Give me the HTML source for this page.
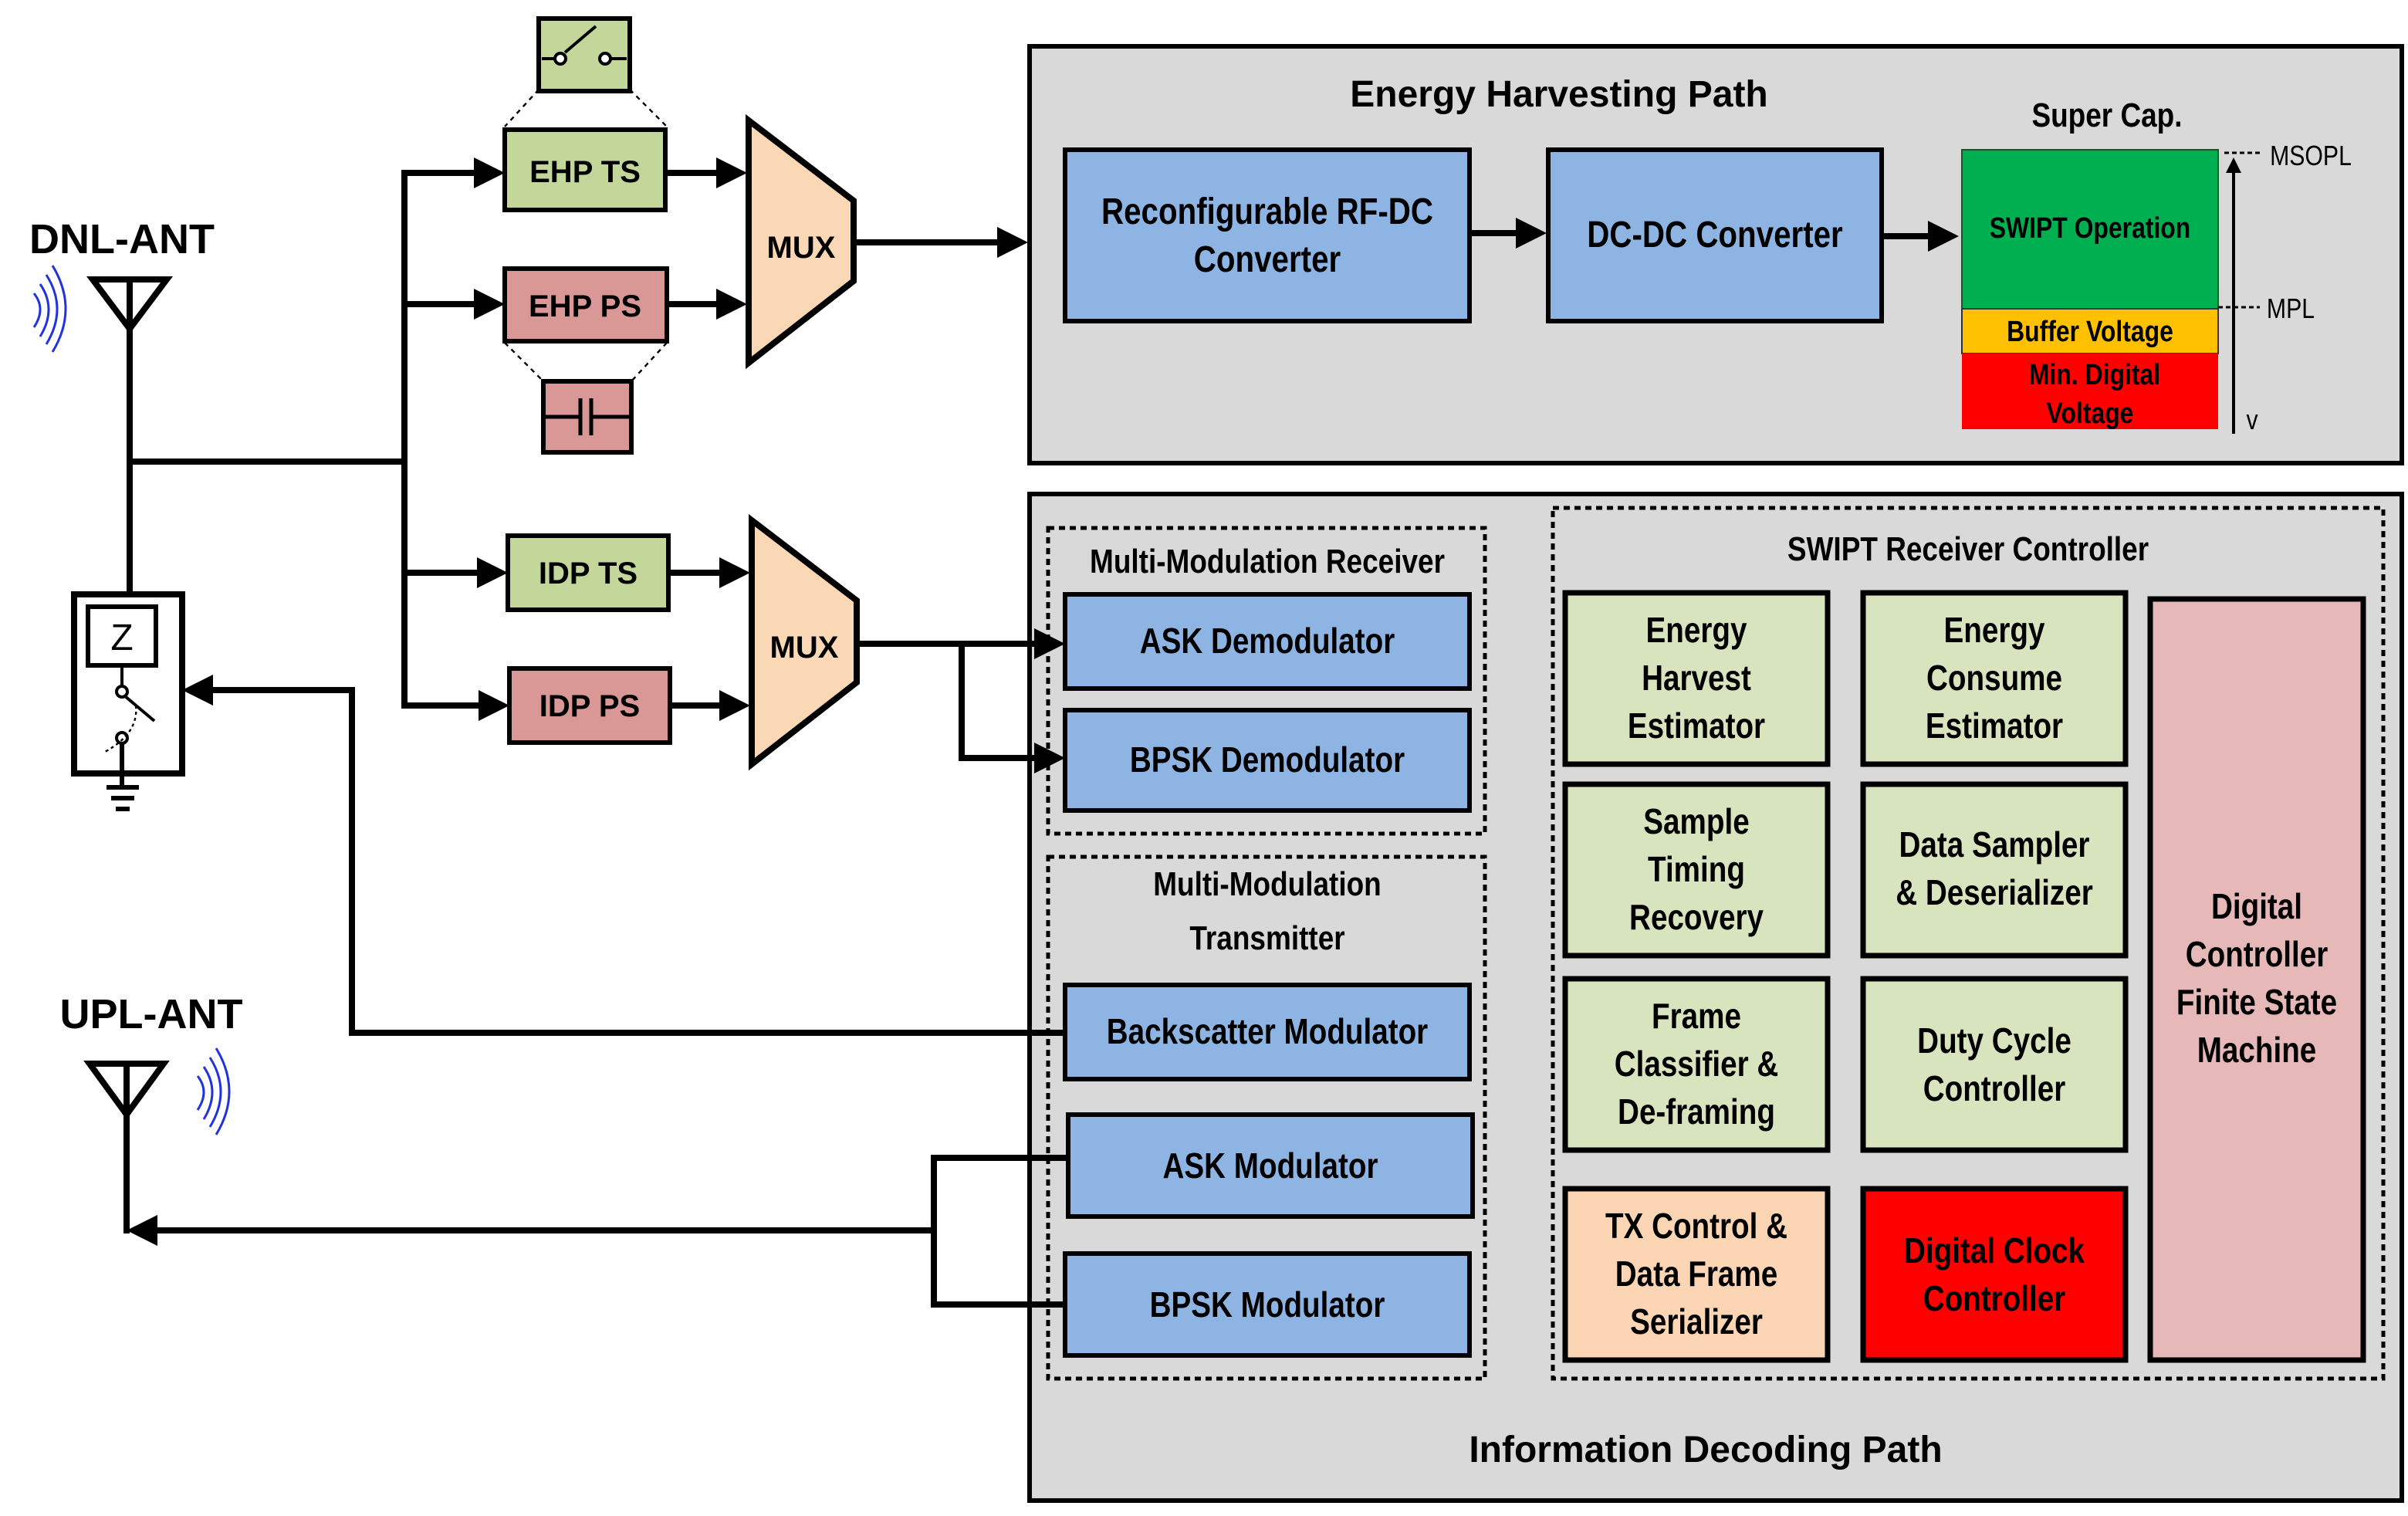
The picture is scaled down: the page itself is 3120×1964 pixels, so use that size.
<!DOCTYPE html>
<html><head><meta charset="utf-8"><style>
html,body{margin:0;padding:0;background:#fff;}
svg{display:block;}
text{font-family:"Liberation Sans Narrow","Liberation Sans",sans-serif;font-weight:bold;fill:#000;text-anchor:middle;transform-box:fill-box;transform-origin:center;transform:scaleX(0.84);}
text.w{font-family:"Liberation Sans",sans-serif;transform:none;}
</style></head><body>
<svg width="3120" height="1964" viewBox="0 0 1560 982" xmlns="http://www.w3.org/2000/svg">
<defs>
<marker id="ah" markerWidth="5" markerHeight="5" refX="4" refY="2.5" orient="auto" markerUnits="strokeWidth"><path d="M0,0 L5,2.5 L0,5 Z" fill="#000"/></marker>
</defs>
<rect width="1560" height="982" fill="#fff"/>
<!-- panels -->
<rect x="667" y="30" width="889" height="270" fill="#d9d9d9" stroke="#000" stroke-width="3"/>
<rect x="667" y="320" width="889" height="652" fill="#d9d9d9" stroke="#000" stroke-width="3"/>
<text class="w" x="1010" y="69" font-size="24">Energy Harvesting Path</text>
<text class="w" x="1105" y="947" font-size="24">Information Decoding Path</text>

<!-- EH path -->
<rect x="690" y="97" width="262" height="111" fill="#8eb4e3" stroke="#000" stroke-width="3"/>
<text x="821" y="145" font-size="24">Reconfigurable RF-DC</text>
<text x="821" y="176" font-size="24">Converter</text>
<rect x="1003" y="97" width="216" height="111" fill="#8eb4e3" stroke="#000" stroke-width="3"/>
<text x="1111" y="160" font-size="24">DC-DC Converter</text>
<line x1="952" y1="151" x2="998" y2="151" stroke="#000" stroke-width="4" marker-end="url(#ah)"/>
<line x1="1219" y1="153" x2="1265" y2="153" stroke="#000" stroke-width="4" marker-end="url(#ah)"/>
<text x="1365" y="82" font-size="22">Super Cap.</text>
<rect x="1271" y="97" width="166" height="103" fill="#00b050" stroke="#0a5a2a" stroke-width="1"/>
<rect x="1271" y="200" width="166" height="29" fill="#ffc000" stroke="#333" stroke-width="1"/>
<rect x="1271" y="229" width="166" height="49" fill="#ff0000"/>
<text x="1354" y="154" font-size="19">SWIPT Operation</text>
<text x="1354" y="221" font-size="19">Buffer Voltage</text>
<text x="1357" y="249" font-size="19">Min. Digital</text>
<text x="1354" y="274" font-size="19">Voltage</text>
<line x1="1447" y1="281" x2="1447" y2="104" stroke="#000" stroke-width="2" marker-end="url(#ah)"/>
<line x1="1441" y1="99" x2="1466" y2="99" stroke="#000" stroke-width="1.5" stroke-dasharray="3,2"/>
<line x1="1437" y1="199" x2="1464" y2="199" stroke="#000" stroke-width="1.5" stroke-dasharray="3,2"/>
<text x="1497" y="107" font-size="18" style="font-weight:normal">MSOPL</text>
<text x="1484" y="206" font-size="18" style="font-weight:normal">MPL</text>
<text x="1459" y="278" font-size="18" style="font-weight:normal">v</text>

<!-- left side -->
<text class="w" x="79" y="164" font-size="27">DNL-ANT</text>
<path d="M60,181 L108,181 L84,213 Z M84,181 L84,213" fill="none" stroke="#000" stroke-width="4"/>
<g fill="none" stroke="#2233dd" stroke-width="1.5">
<path d="M22,190 Q30,200 22,212"/><path d="M26,184 Q37,200 26,218"/><path d="M30,178 Q44,200 30,223"/><path d="M34,172 Q51,200 34,228"/>
</g>
<polyline points="84,213 84,385" fill="none" stroke="#000" stroke-width="4"/>
<line x1="84" y1="299" x2="262" y2="299" stroke="#000" stroke-width="4"/>
<line x1="262" y1="110" x2="262" y2="459" stroke="#000" stroke-width="4"/>
<line x1="260" y1="112" x2="323" y2="112" stroke="#000" stroke-width="4" marker-end="url(#ah)"/>
<line x1="260" y1="197" x2="323" y2="197" stroke="#000" stroke-width="4" marker-end="url(#ah)"/>
<line x1="260" y1="371" x2="325" y2="371" stroke="#000" stroke-width="4" marker-end="url(#ah)"/>
<line x1="260" y1="457" x2="326" y2="457" stroke="#000" stroke-width="4" marker-end="url(#ah)"/>

<!-- switch + cap -->
<rect x="349" y="12" width="59" height="47" fill="#c4d79b" stroke="#000" stroke-width="3"/>
<line x1="351" y1="38" x2="360" y2="38" stroke="#000" stroke-width="2"/>
<line x1="366" y1="34" x2="386" y2="17" stroke="#000" stroke-width="2"/>
<circle cx="363" cy="38" r="3.5" fill="#fff" stroke="#000" stroke-width="2"/>
<circle cx="392" cy="38" r="3.5" fill="#fff" stroke="#000" stroke-width="2"/>
<line x1="396" y1="38" x2="406" y2="38" stroke="#000" stroke-width="2"/>
<g stroke="#000" stroke-width="1.2" stroke-dasharray="3,3">
<line x1="349" y1="58" x2="327" y2="82"/><line x1="408" y1="58" x2="432" y2="82"/>
<line x1="327" y1="222" x2="352" y2="247"/><line x1="432" y1="222" x2="409" y2="247"/>
</g>
<rect x="327" y="84" width="104" height="52" fill="#c4d79b" stroke="#000" stroke-width="3"/>
<text class="w" x="379" y="118" font-size="20">EHP TS</text>
<rect x="327" y="174" width="105" height="47" fill="#d99795" stroke="#000" stroke-width="3"/>
<text class="w" x="379" y="205" font-size="20">EHP PS</text>
<rect x="352" y="247" width="57" height="46" fill="#d99795" stroke="#000" stroke-width="3"/>
<path d="M353,270 L376,270 M376,258 L376,282 M383,258 L383,282 M383,270 L408,270" stroke="#000" stroke-width="2.5" fill="none"/>
<rect x="329" y="347" width="104" height="48" fill="#c4d79b" stroke="#000" stroke-width="3"/>
<text class="w" x="381" y="378" font-size="20">IDP TS</text>
<rect x="330" y="433" width="104" height="48" fill="#d99795" stroke="#000" stroke-width="3"/>
<text class="w" x="382" y="464" font-size="20">IDP PS</text>
<line x1="431" y1="112" x2="480" y2="112" stroke="#000" stroke-width="4" marker-end="url(#ah)"/>
<line x1="432" y1="197" x2="480" y2="197" stroke="#000" stroke-width="4" marker-end="url(#ah)"/>
<line x1="433" y1="371" x2="482" y2="371" stroke="#000" stroke-width="4" marker-end="url(#ah)"/>
<line x1="434" y1="457" x2="482" y2="457" stroke="#000" stroke-width="4" marker-end="url(#ah)"/>

<!-- MUX -->
<polygon points="485,78 553,130 553,182 485,235" fill="#fad7b5" stroke="#000" stroke-width="4"/>
<text class="w" x="519" y="167" font-size="20">MUX</text>
<polygon points="487,337 555,389 555,442 487,495" fill="#fad7b5" stroke="#000" stroke-width="4"/>
<text class="w" x="521" y="426" font-size="20">MUX</text>
<line x1="553" y1="157" x2="662" y2="157" stroke="#000" stroke-width="4" marker-end="url(#ah)"/>
<polyline points="555,417 623,417 623,491" fill="none" stroke="#000" stroke-width="4"/>
<line x1="621" y1="417" x2="686" y2="417" stroke="#000" stroke-width="4" marker-end="url(#ah)"/>
<line x1="621" y1="491" x2="686" y2="491" stroke="#000" stroke-width="4" marker-end="url(#ah)"/>

<!-- impedance -->
<rect x="48" y="385" width="70" height="116" fill="#fff" stroke="#000" stroke-width="4"/>
<rect x="57" y="393" width="44" height="38" fill="#fff" stroke="#000" stroke-width="3"/>
<text class="w" x="79" y="421" font-size="24" style="font-weight:normal">Z</text>
<line x1="79" y1="431" x2="79" y2="444" stroke="#000" stroke-width="2"/>
<circle cx="79" cy="448" r="3.5" fill="#fff" stroke="#000" stroke-width="2"/>
<line x1="81" y1="451" x2="100" y2="467" stroke="#000" stroke-width="2"/>
<circle cx="79" cy="478" r="3.5" fill="#fff" stroke="#000" stroke-width="2"/>
<path d="M88,457 Q90,475 68,487" fill="none" stroke="#000" stroke-width="1.2" stroke-dasharray="2,2"/>
<line x1="79" y1="482" x2="79" y2="510" stroke="#000" stroke-width="3"/>
<path d="M69,510 L90,510 M72,517 L87,517 M75,524 L84,524" stroke="#000" stroke-width="3"/>
<polyline points="690,669 228,669 228,447" fill="none" stroke="#000" stroke-width="4"/>
<line x1="230" y1="447" x2="122" y2="447" stroke="#000" stroke-width="4" marker-end="url(#ah)"/>

<!-- UPL -->
<text class="w" x="98" y="666" font-size="27">UPL-ANT</text>
<path d="M58,689 L106,689 L82,722 Z M82,689 L82,722" fill="none" stroke="#000" stroke-width="4"/>
<g fill="none" stroke="#2233dd" stroke-width="1.5">
<path d="M128,697 Q136,707 128,719"/><path d="M132,691 Q143,707 132,725"/><path d="M136,685 Q150,707 136,730"/><path d="M140,679 Q157,707 140,735"/>
</g>
<line x1="82" y1="722" x2="82" y2="799" stroke="#000" stroke-width="4"/>
<polyline points="692,750 605,750 605,845 690,845" fill="none" stroke="#000" stroke-width="4"/>
<line x1="607" y1="797" x2="86" y2="797" stroke="#000" stroke-width="4" marker-end="url(#ah)"/>

<!-- Multi-mod boxes -->
<rect x="679" y="342" width="283" height="198" fill="none" stroke="#000" stroke-width="2.5" stroke-dasharray="4,3"/>
<text x="821" y="371" font-size="22">Multi-Modulation Receiver</text>
<rect x="690" y="385" width="262" height="61" fill="#8eb4e3" stroke="#000" stroke-width="3"/>
<text x="821" y="423" font-size="23">ASK Demodulator</text>
<rect x="690" y="460" width="262" height="65" fill="#8eb4e3" stroke="#000" stroke-width="3"/>
<text x="821" y="500" font-size="23">BPSK Demodulator</text>
<rect x="679" y="555" width="283" height="338" fill="none" stroke="#000" stroke-width="2.5" stroke-dasharray="4,3"/>
<text x="821" y="580" font-size="22">Multi-Modulation</text>
<text x="821" y="615" font-size="22">Transmitter</text>
<rect x="690" y="638" width="262" height="61" fill="#8eb4e3" stroke="#000" stroke-width="3"/>
<text x="821" y="676" font-size="23">Backscatter Modulator</text>
<rect x="692" y="722" width="262" height="66" fill="#8eb4e3" stroke="#000" stroke-width="3"/>
<text x="823" y="763" font-size="23">ASK Modulator</text>
<rect x="690" y="812" width="262" height="66" fill="#8eb4e3" stroke="#000" stroke-width="3"/>
<text x="821" y="853" font-size="23">BPSK Modulator</text>

<!-- SWIPT controller -->
<rect x="1006" y="329" width="538" height="564" fill="none" stroke="#000" stroke-width="2.5" stroke-dasharray="4,3"/>
<text x="1275" y="363" font-size="22">SWIPT Receiver Controller</text>
<g stroke="#000" stroke-width="3.5">
<rect x="1014" y="384" width="170" height="111" fill="#d7e4bd"/>
<rect x="1207" y="384" width="170" height="111" fill="#d7e4bd"/>
<rect x="1014" y="508" width="170" height="111" fill="#d7e4bd"/>
<rect x="1207" y="508" width="170" height="111" fill="#d7e4bd"/>
<rect x="1014" y="634" width="170" height="111" fill="#d7e4bd"/>
<rect x="1207" y="634" width="170" height="111" fill="#d7e4bd"/>
<rect x="1014" y="770" width="170" height="111" fill="#fcd5b5"/>
<rect x="1207" y="770" width="170" height="111" fill="#ff0000"/>
<rect x="1393" y="388" width="138" height="493" fill="#e6b9b8"/>
</g>
<g font-size="23">
<text x="1099" y="416">Energy</text><text x="1099" y="447">Harvest</text><text x="1099" y="478">Estimator</text>
<text x="1292" y="416">Energy</text><text x="1292" y="447">Consume</text><text x="1292" y="478">Estimator</text>
<text x="1099" y="540">Sample</text><text x="1099" y="571">Timing</text><text x="1099" y="602">Recovery</text>
<text x="1292" y="555">Data Sampler</text><text x="1292" y="586">&amp; Deserializer</text>
<text x="1099" y="666">Frame</text><text x="1099" y="697">Classifier &amp;</text><text x="1099" y="728">De-framing</text>
<text x="1292" y="682">Duty Cycle</text><text x="1292" y="713">Controller</text>
<text x="1099" y="802">TX Control &amp;</text><text x="1099" y="833">Data Frame</text><text x="1099" y="864">Serializer</text>
<text x="1292" y="818">Digital Clock</text><text x="1292" y="849">Controller</text>
<text x="1462" y="595">Digital</text><text x="1462" y="626">Controller</text><text x="1462" y="657">Finite State</text><text x="1462" y="688">Machine</text>
</g>
</svg>
</body></html>
